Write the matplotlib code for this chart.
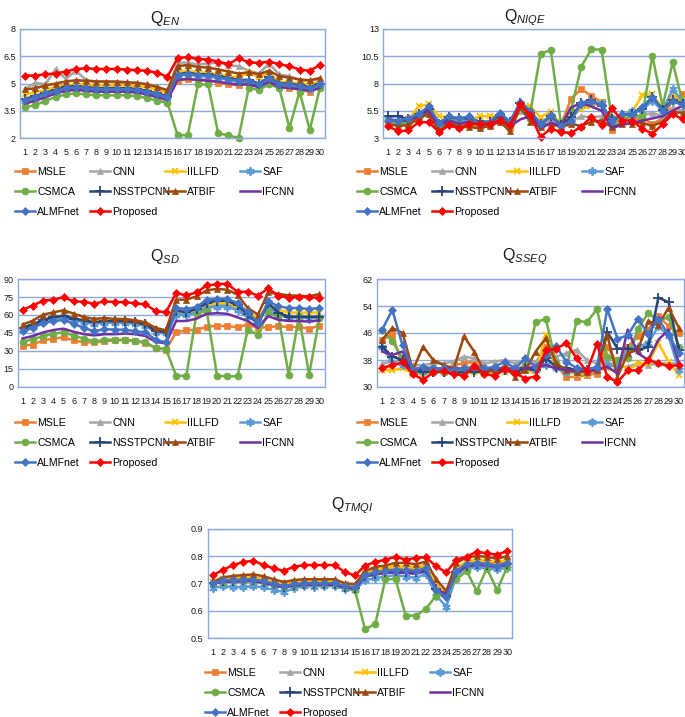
import matplotlib
matplotlib.use("Agg")
import matplotlib.pyplot as plt
import numpy as np

plt.rcParams['font.family'] = ['Liberation Sans', 'DejaVu Sans']
plt.rcParams['mathtext.fontset'] = 'custom'
plt.rcParams['mathtext.rm'] = 'Liberation Sans'
plt.rcParams['mathtext.it'] = 'Liberation Sans:italic'

# image indices
x = np.arange(1, 31)
methods = ["MSLE", "CNN", "IILLFD", "SAF", "CSMCA", "NSSTPCNN", "ATBIF", "IFCNN", "ALMFnet", "Proposed"]

# ---- Q_EN ----
en_msle = [4.00, 4.15, 4.35, 4.50, 4.65, 4.70, 4.65, 4.60, 4.60, 4.60, 4.58, 4.55, 4.45, 4.30, 4.15,
           5.15, 5.25, 5.20, 5.20, 5.05, 4.95, 4.90, 5.00, 4.80, 5.15, 4.80, 4.75, 4.65, 4.55, 4.80]
en_cnn = [4.70, 5.05, 4.95, 5.80, 5.25, 5.70, 5.20, 5.10, 5.10, 5.05, 5.00, 5.00, 4.95, 4.80, 4.60,
          6.15, 6.15, 6.05, 6.10, 6.15, 6.00, 5.95, 5.70, 5.55, 6.10, 5.50, 5.40, 5.20, 5.15, 5.25]
en_iillfd = [4.40, 4.50, 4.65, 4.80, 4.90, 4.95, 4.95, 4.90, 4.90, 4.90, 4.90, 4.85, 4.80, 4.65, 4.50,
             5.65, 5.70, 5.60, 5.60, 5.50, 5.40, 5.35, 5.60, 5.35, 5.55, 5.10, 5.05, 5.00, 4.95, 5.10]
en_saf = [4.05, 4.20, 4.40, 4.55, 4.70, 4.75, 4.70, 4.65, 4.65, 4.65, 4.63, 4.60, 4.50, 4.35, 4.20,
          5.40, 5.50, 5.40, 5.40, 5.30, 5.20, 5.10, 5.10, 4.90, 5.25, 4.90, 4.90, 4.80, 4.70, 4.90]
en_csmca = [3.70, 3.80, 4.05, 4.25, 4.40, 4.45, 4.40, 4.35, 4.35, 4.35, 4.35, 4.30, 4.20, 4.05, 3.95,
            2.15, 2.15, 4.95, 4.95, 2.25, 2.15, 2.00, 4.75, 4.65, 4.95, 4.75, 2.55, 4.55, 2.45, 4.75]
en_nsst = [4.15, 4.30, 4.50, 4.65, 4.80, 4.85, 4.80, 4.75, 4.75, 4.75, 4.73, 4.70, 4.60, 4.45, 4.30,
           5.50, 5.60, 5.50, 5.50, 5.40, 5.30, 5.20, 5.20, 5.00, 5.35, 5.00, 5.00, 4.90, 4.80, 5.00]
en_atbif = [4.67, 4.74, 4.89, 5.00, 5.11, 5.18, 5.15, 5.11, 5.11, 5.11, 5.07, 5.04, 4.96, 4.81, 4.63,
            5.95, 6.02, 5.91, 5.88, 5.77, 5.66, 5.55, 5.62, 5.51, 5.70, 5.40, 5.33, 5.22, 5.18, 5.30]
en_ifcnn = [3.90, 4.05, 4.25, 4.45, 4.60, 4.65, 4.60, 4.55, 4.55, 4.55, 4.55, 4.50, 4.40, 4.25, 4.10,
            5.20, 5.25, 5.20, 5.15, 5.10, 5.00, 4.95, 4.95, 4.80, 5.10, 4.80, 4.75, 4.70, 4.60, 4.75]
en_almf = [4.10, 4.25, 4.45, 4.60, 4.75, 4.80, 4.75, 4.70, 4.70, 4.70, 4.68, 4.65, 4.55, 4.40, 4.25,
           5.45, 5.55, 5.45, 5.45, 5.35, 5.25, 5.15, 5.15, 4.95, 5.30, 4.95, 4.95, 4.85, 4.75, 4.95]
en_prop = [5.44, 5.44, 5.51, 5.55, 5.66, 5.80, 5.84, 5.80, 5.80, 5.80, 5.77, 5.73, 5.70, 5.59, 5.37,
           6.39, 6.46, 6.35, 6.32, 6.21, 6.06, 6.39, 6.17, 6.13, 6.21, 6.06, 5.95, 5.77, 5.70, 6.02]

# ---- Q_NIQE ----
niqe_msle = [4.5, 4.4, 4.3, 5.0, 5.4, 3.8, 4.6, 4.3, 4.3, 4.0, 4.2, 4.6, 3.9, 5.8, 4.8,
             4.2, 4.8, 4.2, 6.6, 7.5, 6.85, 6.3, 3.75, 4.6, 4.7, 4.8, 4.3, 4.8, 6.5, 7.0]
niqe_cnn = [4.3, 4.3, 4.3, 4.9, 5.2, 4.0, 4.5, 4.3, 4.4, 4.3, 4.3, 4.6, 4.3, 5.5, 4.9,
            4.3, 4.6, 4.1, 4.5, 5.0, 4.9, 5.0, 4.3, 4.6, 4.8, 5.1, 5.3, 5.0, 5.8, 5.5]
niqe_iillfd = [4.5, 4.5, 4.7, 5.9, 6.1, 5.0, 4.9, 4.7, 4.6, 5.0, 5.0, 5.0, 4.5, 6.0, 5.9,
               4.9, 5.4, 4.3, 5.0, 5.7, 5.9, 6.3, 4.4, 4.8, 5.4, 6.9, 7.0, 5.7, 7.0, 6.2]
niqe_saf = [4.7, 4.6, 4.5, 5.2, 5.6, 4.3, 4.8, 4.5, 4.6, 4.5, 4.4, 4.9, 4.4, 6.0, 5.2,
            4.2, 5.0, 4.3, 4.6, 6.1, 6.3, 6.2, 4.5, 5.0, 5.5, 5.6, 6.4, 5.5, 7.5, 6.3]
niqe_csmca = [4.6, 4.4, 4.3, 4.9, 5.5, 4.0, 4.6, 4.4, 4.3, 4.4, 4.3, 4.6, 4.2, 5.9, 5.4,
              10.75, 11.05, 4.4, 5.6, 9.55, 11.15, 11.1, 4.8, 4.6, 5.1, 5.0, 10.55, 5.9, 9.95, 6.1]
niqe_nsst = [5.0, 5.0, 4.7, 5.2, 5.7, 4.3, 4.9, 4.8, 4.8, 4.5, 4.5, 5.1, 4.5, 6.2, 5.3,
             4.3, 5.0, 4.2, 4.9, 6.2, 6.5, 5.9, 4.7, 5.1, 5.2, 5.7, 6.8, 5.6, 6.5, 6.1]
niqe_atbif = [4.3, 4.1, 4.2, 4.8, 5.2, 3.6, 4.4, 4.0, 4.0, 3.9, 4.1, 4.5, 3.6, 5.8, 4.5,
              4.0, 4.3, 4.0, 4.3, 4.1, 4.5, 4.6, 4.0, 4.3, 4.3, 4.4, 4.1, 4.5, 5.4, 5.3]
niqe_ifcnn = [4.7, 4.6, 4.6, 5.0, 5.5, 4.1, 4.6, 4.3, 4.5, 4.2, 4.3, 4.6, 4.1, 4.7, 5.0,
              3.9, 4.4, 4.1, 5.8, 6.2, 5.9, 5.5, 3.9, 4.2, 4.4, 4.6, 4.8, 5.0, 5.5, 6.0]
niqe_almf = [4.6, 4.6, 4.8, 5.2, 5.9, 4.4, 5.0, 4.8, 5.0, 4.3, 4.5, 5.3, 4.5, 6.3, 5.5,
             4.3, 5.1, 4.1, 4.6, 6.2, 6.4, 6.0, 4.6, 5.2, 5.1, 5.8, 6.8, 5.5, 6.4, 6.0]
niqe_prop = [4.1, 3.6, 3.7, 4.45, 4.45, 3.55, 4.15, 3.9, 4.3, 4.3, 4.3, 4.65, 4.15, 6.1, 5.1,
             3.1, 3.85, 3.55, 3.45, 4.05, 4.95, 4.15, 5.75, 4.6, 4.6, 3.85, 3.4, 4.25, 5.2, 4.7]

# ---- Q_SD ----
sd_msle = [34.4, 35.3, 38.9, 40.3, 41.4, 38.9, 37.2, 37.2, 38.0, 38.9, 38.9, 38.0, 36.7, 32.5, 31.1,
           45.6, 47.2, 47.8, 50.0, 51.1, 50.6, 50.0, 52.0, 49.2, 50.0, 50.6, 50.0, 50.0, 48.6, 51.1]
sd_cnn = [48.0, 51.0, 55.0, 57.0, 58.5, 56.0, 54.5, 53.0, 54.0, 54.0, 54.0, 53.0, 51.5, 46.0, 45.5,
          61.0, 61.0, 63.5, 67.0, 68.5, 68.5, 65.0, 60.0, 56.0, 68.5, 61.0, 59.0, 59.0, 58.5, 59.0]
sd_iillfd = [48.5, 51.5, 55.5, 57.5, 59.0, 56.5, 55.0, 53.5, 54.5, 54.5, 54.5, 53.5, 52.0, 46.5, 45.5,
             61.5, 60.5, 63.0, 68.0, 70.0, 70.0, 66.0, 62.0, 57.5, 68.0, 64.5, 62.0, 62.0, 62.0, 62.0]
sd_saf = [47.5, 50.5, 54.5, 56.5, 58.0, 55.5, 54.0, 52.5, 53.5, 53.5, 53.5, 52.5, 51.0, 45.5, 45.0,
          60.0, 60.0, 62.0, 66.0, 67.0, 67.0, 64.0, 58.0, 55.0, 67.0, 60.0, 58.0, 58.0, 57.0, 58.0]
sd_csmca = [37.5, 40.0, 42.2, 44.4, 45.6, 42.8, 40.3, 38.0, 39.4, 39.4, 39.4, 38.6, 37.2, 32.5, 31.7,
            9.4, 9.4, 61.7, 63.0, 9.4, 8.9, 8.9, 47.8, 43.6, 62.2, 58.9, 10.3, 58.9, 10.3, 57.5]
sd_nsst = [49.5, 52.0, 56.0, 58.0, 59.5, 57.0, 55.5, 54.0, 55.0, 55.0, 55.0, 54.0, 52.5, 46.5, 46.0,
           63.5, 62.5, 65.0, 70.0, 72.0, 72.0, 68.0, 60.5, 52.5, 70.0, 62.0, 58.5, 58.5, 58.5, 58.5]
sd_atbif = [52.0, 55.3, 60.3, 62.2, 63.9, 61.1, 58.3, 56.7, 57.5, 56.7, 56.7, 55.6, 53.9, 49.2, 47.2,
            72.8, 72.8, 75.6, 80.6, 81.7, 81.1, 76.9, 65.8, 60.3, 78.9, 77.5, 76.4, 76.1, 75.6, 77.5]
sd_ifcnn = [40.5, 42.5, 45.5, 47.5, 48.6, 46.0, 44.0, 43.0, 44.0, 44.0, 44.5, 44.0, 42.5, 37.5, 36.5,
            55.0, 55.0, 57.0, 61.0, 61.5, 61.0, 58.0, 55.0, 49.5, 59.0, 56.0, 55.0, 55.0, 54.5, 55.5]
sd_almf = [46.4, 49.2, 53.3, 54.7, 56.1, 52.5, 49.2, 46.4, 48.3, 47.8, 47.8, 46.4, 45.6, 39.4, 37.2,
           65.8, 65.0, 66.7, 72.8, 73.3, 73.3, 70.0, 62.2, 53.3, 71.4, 67.2, 65.8, 65.8, 65.0, 65.8]
sd_prop = [64.4, 67.8, 72.0, 72.8, 74.7, 71.4, 71.1, 69.4, 71.4, 70.8, 70.8, 69.7, 68.9, 63.3, 62.2,
           78.3, 76.4, 78.9, 84.7, 85.6, 86.1, 79.2, 79.4, 76.1, 82.2, 76.1, 74.4, 75.0, 75.0, 74.2]

# ---- Q_SSEQ ----
sseq_msle = [44.0, 45.5, 36.5, 36.0, 35.0, 35.5, 35.0, 36.5, 37.0, 37.5, 35.0, 35.5, 35.5, 35.0, 36.5,
             37.0, 42.0, 36.5, 33.0, 33.0, 33.5, 34.0, 42.0, 37.0, 42.0, 45.0, 47.0, 51.0, 48.0, 46.0]
sseq_cnn = [37.0, 37.5, 38.0, 36.5, 36.5, 37.0, 37.0, 37.5, 39.0, 38.5, 37.0, 37.5, 38.0, 37.0, 38.0,
            37.5, 39.0, 39.0, 40.0, 41.0, 38.0, 37.0, 37.5, 36.0, 36.0, 37.0, 36.5, 37.0, 37.0, 37.0]
sseq_iillfd = [35.0, 35.0, 35.5, 34.0, 34.0, 34.5, 34.5, 34.5, 34.0, 34.5, 34.0, 34.5, 34.5, 34.5, 35.0,
               34.0, 45.5, 36.0, 34.5, 34.0, 34.0, 35.0, 35.5, 38.0, 35.0, 37.0, 37.0, 43.0, 37.5, 33.5]
sseq_saf = [42.0, 37.0, 36.5, 34.5, 34.5, 34.5, 34.5, 34.5, 35.0, 35.0, 34.5, 35.0, 35.0, 35.0, 35.5,
            35.0, 36.5, 35.5, 34.5, 34.5, 34.5, 35.0, 36.5, 36.0, 41.0, 42.0, 43.0, 48.0, 45.0, 35.0]
sseq_csmca = [47.0, 43.5, 38.5, 35.0, 35.0, 34.5, 34.5, 34.5, 34.5, 35.0, 34.5, 35.0, 35.5, 35.0, 36.0,
              49.2, 50.2, 37.0, 35.0, 49.7, 49.2, 53.1, 39.0, 38.0, 38.5, 47.3, 51.9, 49.7, 50.7, 41.9]
sseq_nsst = [42.0, 39.0, 38.0, 35.0, 34.5, 34.5, 34.5, 34.0, 34.5, 34.5, 34.5, 35.0, 35.0, 34.5, 35.5,
             35.0, 38.5, 36.0, 35.6, 35.0, 35.0, 35.6, 46.3, 41.4, 41.4, 40.9, 41.9, 56.5, 55.1, 40.9]
sseq_atbif = [44.0, 47.5, 46.0, 35.0, 42.0, 38.0, 36.5, 35.5, 45.0, 40.5, 34.5, 35.0, 36.0, 33.0, 35.0,
              40.5, 44.5, 37.0, 35.0, 34.5, 34.5, 35.0, 45.5, 33.0, 40.0, 41.0, 49.5, 48.5, 53.5, 47.5]
sseq_ifcnn = [40.5, 39.5, 40.5, 35.0, 35.5, 35.5, 35.5, 35.5, 35.5, 35.5, 35.5, 35.5, 35.5, 35.5, 35.5,
              36.0, 36.5, 35.5, 35.0, 35.0, 35.0, 35.0, 36.0, 34.0, 47.0, 40.0, 38.0, 44.0, 47.0, 37.0]
sseq_almf = [47.0, 52.8, 42.3, 35.0, 36.0, 35.5, 35.5, 35.0, 35.5, 36.0, 35.5, 36.0, 37.5, 35.5, 38.5,
             36.0, 39.5, 42.1, 37.5, 35.6, 35.3, 35.9, 53.1, 44.3, 45.3, 50.2, 45.8, 50.2, 45.3, 40.1]
sseq_prop = [35.6, 36.5, 37.3, 33.9, 32.1, 34.3, 34.6, 33.9, 33.3, 36.2, 33.9, 33.3, 35.3, 34.1, 32.5,
             33.1, 40.9, 41.2, 43.1, 38.5, 34.6, 42.7, 33.1, 31.4, 34.9, 34.9, 38.0, 37.0, 36.2, 36.5]

# ---- Q_TMQI ----
tmqi_msle = [0.703, 0.714, 0.715, 0.716, 0.717, 0.711, 0.701, 0.693, 0.700, 0.703, 0.703, 0.703, 0.703, 0.694, 0.689,
             0.740, 0.745, 0.750, 0.755, 0.755, 0.752, 0.760, 0.685, 0.660, 0.750, 0.772, 0.778, 0.775, 0.770, 0.778]
tmqi_cnn = [0.706, 0.717, 0.719, 0.720, 0.722, 0.715, 0.705, 0.697, 0.704, 0.707, 0.707, 0.707, 0.707, 0.697, 0.692,
            0.738, 0.748, 0.754, 0.760, 0.760, 0.757, 0.765, 0.695, 0.662, 0.755, 0.778, 0.783, 0.780, 0.775, 0.783]
tmqi_iillfd = [0.704, 0.716, 0.718, 0.720, 0.721, 0.714, 0.704, 0.696, 0.703, 0.706, 0.706, 0.706, 0.706, 0.696, 0.691,
               0.742, 0.750, 0.756, 0.762, 0.762, 0.758, 0.768, 0.690, 0.668, 0.758, 0.780, 0.786, 0.783, 0.778, 0.786]
tmqi_saf = [0.683, 0.690, 0.686, 0.686, 0.690, 0.685, 0.676, 0.668, 0.682, 0.690, 0.688, 0.690, 0.690, 0.680, 0.675,
            0.712, 0.718, 0.725, 0.730, 0.725, 0.720, 0.735, 0.655, 0.615, 0.730, 0.755, 0.760, 0.755, 0.752, 0.757]
tmqi_csmca = [0.700, 0.705, 0.708, 0.708, 0.710, 0.705, 0.695, 0.688, 0.695, 0.698, 0.698, 0.698, 0.698, 0.688, 0.675,
              0.532, 0.551, 0.715, 0.715, 0.582, 0.582, 0.607, 0.655, 0.665, 0.715, 0.745, 0.672, 0.755, 0.675, 0.760]
tmqi_nsst = [0.702, 0.710, 0.710, 0.712, 0.712, 0.706, 0.696, 0.688, 0.695, 0.698, 0.698, 0.698, 0.698, 0.688, 0.683,
             0.728, 0.736, 0.742, 0.745, 0.743, 0.740, 0.752, 0.678, 0.655, 0.742, 0.765, 0.770, 0.767, 0.762, 0.770]
tmqi_atbif = [0.705, 0.722, 0.727, 0.730, 0.733, 0.726, 0.715, 0.705, 0.712, 0.715, 0.715, 0.715, 0.715, 0.700, 0.697,
              0.745, 0.760, 0.765, 0.775, 0.775, 0.770, 0.780, 0.715, 0.672, 0.775, 0.795, 0.800, 0.797, 0.790, 0.800]
tmqi_ifcnn = [0.698, 0.706, 0.706, 0.708, 0.708, 0.702, 0.692, 0.685, 0.692, 0.695, 0.695, 0.695, 0.695, 0.686, 0.680,
              0.725, 0.732, 0.738, 0.740, 0.738, 0.735, 0.745, 0.680, 0.660, 0.740, 0.762, 0.768, 0.765, 0.760, 0.768]
tmqi_almf = [0.700, 0.712, 0.712, 0.714, 0.714, 0.708, 0.698, 0.690, 0.697, 0.700, 0.700, 0.700, 0.700, 0.690, 0.685,
             0.730, 0.740, 0.745, 0.750, 0.748, 0.745, 0.755, 0.675, 0.650, 0.745, 0.770, 0.775, 0.770, 0.765, 0.775]
tmqi_prop = [0.730, 0.749, 0.767, 0.778, 0.783, 0.767, 0.755, 0.746, 0.761, 0.767, 0.767, 0.767, 0.767, 0.741, 0.729,
             0.765, 0.778, 0.787, 0.797, 0.787, 0.793, 0.796, 0.762, 0.740, 0.787, 0.797, 0.816, 0.810, 0.805, 0.818]

# styles per method: color, marker, markersize
styles = {
    "MSLE": ("#ED7D31", "s", 4.5),
    "CNN": ("#A5A5A5", "^", 5),
    "IILLFD": ("#FFC000", "x", 5),
    "SAF": ("#5B9BD5", (6, 2, 0), 6),
    "CSMCA": ("#70AD47", "o", 5),
    "NSSTPCNN": ("#264478", "+", 7),
    "ATBIF": ("#9E480E", "^", 5),
    "IFCNN": ("#7030A0", None, 0),
    "ALMFnet": ("#4472C4", "D", 3.8),
    "Proposed": ("#FF0000", "D", 3.8),
}

# panel: title, data, ylim, yticks, ticklabels, axes box in pixels (left, top, width, height), title pos, legend pos
panels = [
    ("EN", [en_msle, en_cnn, en_iillfd, en_saf, en_csmca, en_nsst, en_atbif, en_ifcnn, en_almf, en_prop],
     (2, 8), [2, 3.5, 5, 6.5, 8], ["2", "3.5", "5", "6.5", "8"],
     (20, 29, 305, 109), (165, 18), (15, 167)),
    ("NIQE", [niqe_msle, niqe_cnn, niqe_iillfd, niqe_saf, niqe_csmca, niqe_nsst, niqe_atbif, niqe_ifcnn,
              niqe_almf, niqe_prop],
     (3, 13), [3, 5.5, 8, 10.5, 13], ["3", "5.5", "8", "10.5", "13"],
     (383, 29, 305, 109), (525, 18), (357, 167)),
    ("SD", [sd_msle, sd_cnn, sd_iillfd, sd_saf, sd_csmca, sd_nsst, sd_atbif, sd_ifcnn, sd_almf, sd_prop],
     (0, 90), [0, 15, 30, 45, 60, 75, 90], ["0", "15", "30", "45", "60", "75", "90"],
     (17.5, 279, 307, 108), (165, 256), (15, 418)),
    ("SSEQ", [sseq_msle, sseq_cnn, sseq_iillfd, sseq_saf, sseq_csmca, sseq_nsst, sseq_atbif, sseq_ifcnn,
              sseq_almf, sseq_prop],
     (30, 62), [30, 38, 46, 54, 62], ["30", "38", "46", "54", "62"],
     (377, 279, 307, 108), (525, 257), (357, 418)),
    ("TMQI", [tmqi_msle, tmqi_cnn, tmqi_iillfd, tmqi_saf, tmqi_csmca, tmqi_nsst, tmqi_atbif, tmqi_ifcnn,
              tmqi_almf, tmqi_prop],
     (0.5, 0.9), [0.5, 0.6, 0.7, 0.8, 0.9], ["0.5", "0.6", "0.7", "0.8", "0.9"],
     (207.7, 528.7, 304.6, 109.3), (352, 506), (205, 668)),
]

W, H = 685, 717
fig = plt.figure(figsize=(W / 100, H / 100), dpi=100)
grid_col = "#8EA9DB"

for sub, series, ylim, yt, ytl, box, tpos, lpos in panels:
    l, t, w, h = box
    ax = fig.add_axes([l / W, 1 - (t + h) / H, w / W, h / H])
    handles = []
    for name, vals in zip(methods, series):
        c, m, ms = styles[name]
        ln, = ax.plot(x, vals, color=c, lw=1.8, marker=m, ms=ms, mew=1.3 if m in ("x", "+", (6, 2, 0)) else 0.5,
                      mfc=c, mec=c, clip_on=False, solid_joinstyle="round")
        handles.append(ln)
    ax.set_xlim(0.5, 30.5)
    ax.set_ylim(*ylim)
    ax.set_yticks(yt)
    ax.set_yticklabels(ytl)
    ax.set_xticks(x)
    ax.set_xticklabels([str(i) for i in x])
    ax.tick_params(length=0, labelsize=6.5, colors="#1a1a1a")
    ax.tick_params(axis="x", pad=7)
    ax.tick_params(axis="y", pad=3)
    ax.grid(axis="y", color=grid_col, lw=1)
    ax.set_axisbelow(True)
    for s in ax.spines.values():
        s.set_color(grid_col)
        s.set_linewidth(1)
    fig.text(tpos[0] / W, 1 - tpos[1] / H, "Q$_{\\mathit{" + sub + "}}$", ha="center", va="center",
             fontsize=11.5, color="#1a1a1a")
    # legend: 4 fixed columns, row order like the original
    for j in range(4):
        idx = list(range(j, 10, 4))
        fig.legend([handles[i] for i in idx], [methods[i] for i in idx],
                   loc="upper left", bbox_to_anchor=((lpos[0] + j * 75) / W, 1 - lpos[1] / H),
                   bbox_transform=fig.transFigure, frameon=False, fontsize=7.6,
                   handlelength=1.9, handletextpad=0.2, labelspacing=0.95,
                   borderpad=0, borderaxespad=0, markerscale=1.0)

fig.savefig("out.png", dpi=100, facecolor="white")
